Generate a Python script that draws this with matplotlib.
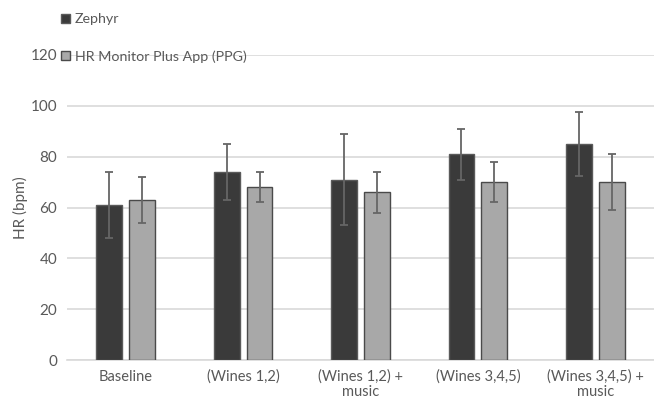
import matplotlib
matplotlib.use("Agg")
import matplotlib.pyplot as plt
import numpy as np
from matplotlib.patches import Patch

categories = ["Baseline", "(Wines 1,2)", "(Wines 1,2) +\nmusic", "(Wines 3,4,5)", "(Wines 3,4,5) +\nmusic"]
series_names = ["Zephyr", "HR Monitor Plus App (PPG)"]
zephyr = [61, 74, 71, 81, 85]
zephyr_err = [13, 11, 18, 10, 12.5]
ppg = [63, 68, 66, 70, 70]
ppg_err = [9, 6, 8, 8, 11]
yticks = [0, 20, 40, 60, 80, 100, 120]

plt.rcParams['font.family'] = ['Lato', 'DejaVu Sans']
txt = '#595959'

fig = plt.figure(figsize=(6.54, 4.0), dpi=100)
ax = fig.add_axes([67/654, 0.1, 1 - 67/654, 0.7625])

x = np.arange(len(categories))
w = 0.22
off = 0.14
ekw = dict(ecolor='#666666', elinewidth=1.3, capsize=3, capthick=1.3)
ax.bar(x - off, zephyr, w, color='#3a3a3a', edgecolor='#5a5a5a', linewidth=1.0,
       yerr=zephyr_err, error_kw=ekw, zorder=3, label=series_names[0])
ax.bar(x + off, ppg, w, color='#a8a8a8', edgecolor='#4a4a4a', linewidth=1.0,
       yerr=ppg_err, error_kw=ekw, zorder=3, label=series_names[1])

ax.set_xlim(-0.5, len(categories) - 0.5)
ax.set_ylim(0, 120)
ax.set_yticks(yticks)
ax.set_xticks(x)
ax.set_xticklabels(categories, fontsize=10.5, color=txt, linespacing=1.12)
ax.tick_params(axis='y', labelsize=11, colors=txt, length=0, pad=7)
ax.tick_params(axis='x', length=0, pad=7)
ax.yaxis.grid(True, color='#d9d9d9', linewidth=1.2, zorder=0)
ax.set_axisbelow(True)
for s in ['top', 'right', 'left']:
    ax.spines[s].set_visible(False)
ax.spines['bottom'].set_color('#d9d9d9')
ax.spines['bottom'].set_linewidth(1.2)
ax.set_ylabel("HR (bpm)", fontsize=11, color=txt, labelpad=2)

handles = [Patch(facecolor='#3a3a3a', edgecolor='#5a5a5a'),
           Patch(facecolor='#a8a8a8', edgecolor='#4a4a4a')]
fig.legend(handles, series_names, loc='upper left', bbox_to_anchor=(0.094, 0.967),
           frameon=False, fontsize=10.3, labelcolor=txt, handlelength=0.6,
           handleheight=0.6, handletextpad=0.35, labelspacing=1.75, borderpad=0,
           borderaxespad=0)

fig.savefig("out.png", dpi=100)
